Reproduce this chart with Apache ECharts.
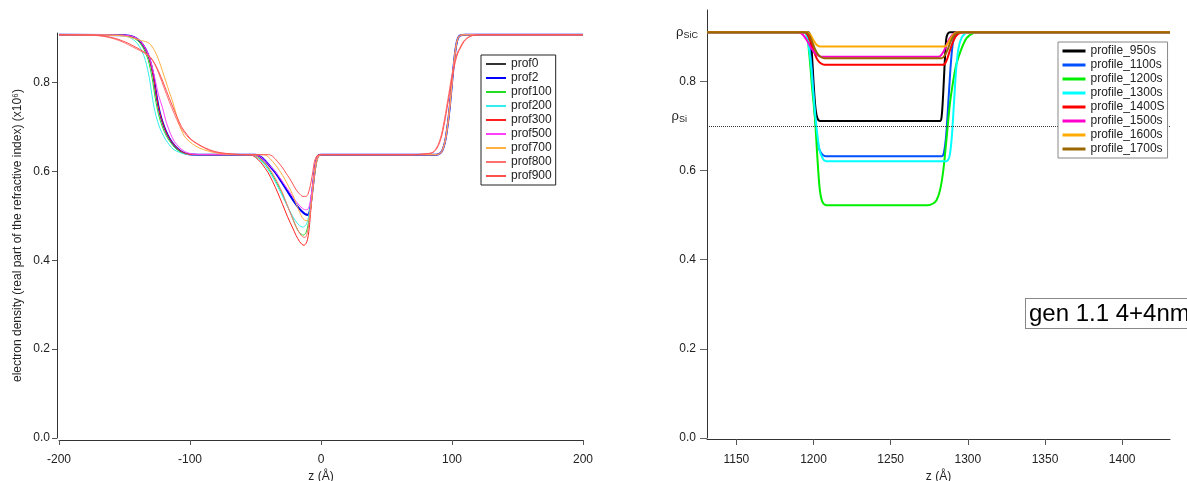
<!DOCTYPE html>
<html>
<head>
<meta charset="utf-8">
<script src="https://cdn.jsdelivr.net/npm/echarts@6/dist/echarts.min.js"></script>
<style>
  html, body { margin: 0; padding: 0; background: #fff; }
  #chart { width: 1187px; height: 481px; }
</style>
</head>
<body>
<div id="chart"></div>
<script>
// ---- left panel: electron density profiles (z in Å, value x10^6) ----
const leftNames = ['prof0', 'prof2', 'prof100', 'prof200', 'prof300', 'prof500', 'prof700', 'prof800', 'prof900'];

const prof0 = [[-200,0.908],[-150,0.907],[-143,0.903],[-138,0.893],[-134,0.876],[-131,0.855],[-128,0.818],[-125.5,0.77],[-123,0.732],[-120,0.703],[-117,0.682],[-114,0.667],[-110,0.653],[-106,0.644],[-101,0.639],[-90,0.638],
  [-50,0.638],[-46,0.633],[-42.5,0.624],[-39,0.612],[-35,0.598],[-31.5,0.583],[-28,0.567],[-24,0.548],[-20.5,0.532],[-17.5,0.52],[-14.5,0.509],[-12,0.503],[-10,0.501],[-8.5,0.512],[-7.3,0.54],[-6,0.572],[-4.7,0.605],[-3.5,0.626],[-2.2,0.636],[0,0.638],
  [88,0.638],[91,0.641],[93,0.65],[95,0.672],[97,0.712],[98.5,0.752],[100,0.8],[101.5,0.845],[103,0.881],[104.5,0.9],[106.5,0.907],[110,0.908],[200,0.908]];
const prof2 = [[-200,0.908],[-150,0.907],[-143,0.903],[-138,0.893],[-134,0.876],[-131,0.855],[-128,0.818],[-125.5,0.77],[-123,0.732],[-120,0.703],[-117,0.682],[-114,0.667],[-110,0.653],[-106,0.644],[-101,0.639],[-90,0.638],
  [-50,0.638],[-46,0.633],[-42.5,0.624],[-39,0.612],[-35,0.598],[-31.5,0.583],[-28,0.567],[-24,0.548],[-20.5,0.532],[-17.5,0.52],[-14.5,0.51],[-12,0.504],[-10,0.503],[-8.5,0.513],[-7.3,0.54],[-6,0.572],[-4.7,0.605],[-3.5,0.626],[-2.2,0.636],[0,0.638],
  [88,0.638],[91,0.641],[93,0.65],[95,0.672],[97,0.712],[98.5,0.752],[100,0.8],[101.5,0.845],[103,0.881],[104.5,0.9],[106.5,0.907],[110,0.908],[200,0.908]];
const prof100 = [[-200,0.908],[-152,0.907],[-144,0.902],[-139,0.892],[-135,0.874],[-132,0.852],[-129,0.812],[-126.5,0.765],[-124,0.728],[-121,0.7],[-118,0.68],[-115,0.666],[-111,0.652],[-107,0.644],[-102,0.639],[-92,0.638],
  [-52,0.638],[-49.5,0.635],[-46,0.627],[-42,0.615],[-38,0.597],[-34.3,0.577],[-30,0.553],[-26.6,0.529],[-23,0.505],[-20.3,0.484],[-18,0.469],[-16,0.461],[-13.4,0.457],[-11.5,0.462],[-10,0.478],[-8.3,0.51],[-7,0.538],[-5.8,0.57],[-4.5,0.6],[-3.2,0.623],[-1.8,0.634],[0,0.638],
  [88,0.638],[91,0.641],[93,0.65],[95,0.672],[97,0.712],[98.5,0.752],[100,0.8],[101.5,0.845],[103,0.881],[104.5,0.9],[106.5,0.907],[110,0.908],[200,0.908]];
const prof200 = [[-200,0.908],[-154,0.907],[-146,0.902],[-141,0.891],[-137,0.873],[-134,0.85],[-131,0.81],[-128.5,0.762],[-126,0.726],[-123,0.698],[-120,0.679],[-117,0.665],[-113,0.651],[-108,0.643],[-103,0.639],[-93,0.638],
  [-53,0.638],[-50.9,0.635],[-47,0.627],[-43.2,0.615],[-39.5,0.6],[-35.6,0.581],[-31.8,0.559],[-28,0.536],[-24.5,0.515],[-21.6,0.499],[-19,0.487],[-16.5,0.479],[-13.9,0.475],[-11.4,0.48],[-10,0.492],[-8.8,0.51],[-7.5,0.535],[-6.3,0.563],[-5,0.594],[-3.7,0.619],[-2.2,0.633],[0,0.638],
  [88,0.638],[91,0.641],[93,0.65],[95,0.672],[97,0.712],[98.5,0.752],[100,0.8],[101.5,0.845],[103,0.881],[104.5,0.9],[106.5,0.907],[110,0.908],[200,0.908]];
const prof300 = [[-200,0.908],[-151,0.907],[-143,0.903],[-138,0.893],[-134,0.875],[-131,0.853],[-128,0.815],[-125.5,0.768],[-123,0.731],[-120,0.702],[-117,0.681],[-114,0.667],[-110,0.653],[-106,0.644],[-101,0.639],[-90,0.638],
  [-55,0.638],[-52,0.636],[-48,0.627],[-44.5,0.615],[-40.5,0.598],[-36.8,0.577],[-33,0.552],[-29.2,0.525],[-25.5,0.498],[-21.6,0.473],[-19,0.456],[-16.5,0.443],[-14.5,0.436],[-13,0.434],[-11.5,0.438],[-10.3,0.447],[-9.3,0.465],[-8.3,0.495],[-7.3,0.53],[-6.3,0.563],[-5.2,0.593],[-4.2,0.615],[-3.2,0.628],[-2,0.635],[0,0.638],
  [88,0.638],[91,0.641],[93,0.65],[95,0.672],[97,0.712],[98.5,0.752],[100,0.8],[101.5,0.845],[103,0.881],[104.5,0.9],[106.5,0.907],[110,0.908],[200,0.908]];
const prof500 = [[-200,0.908],[-150,0.907],[-142,0.902],[-137,0.891],[-133,0.872],[-130,0.848],[-127,0.812],[-124,0.772],[-121,0.744],[-118,0.71],[-115,0.686],[-112,0.668],[-108,0.654],[-104,0.645],[-99,0.64],[-88,0.638],
  [-50,0.638],[-46,0.633],[-42.5,0.624],[-39,0.613],[-35,0.6],[-31.5,0.586],[-28,0.571],[-24,0.554],[-20.5,0.539],[-17.5,0.527],[-14.5,0.518],[-12,0.514],[-10,0.515],[-8.5,0.528],[-7.3,0.55],[-6,0.578],[-4.7,0.607],[-3.5,0.627],[-2.2,0.636],[0,0.638],
  [88,0.638],[91,0.641],[93,0.65],[95,0.672],[97,0.712],[98.5,0.752],[100,0.8],[101.5,0.845],[103,0.881],[104.5,0.9],[106.5,0.907],[110,0.908],[200,0.908]];
const prof700 = [[-200,0.908],[-160,0.907],[-150,0.905],[-143,0.9],[-137,0.895],[-131.2,0.889],[-127,0.872],[-123.5,0.848],[-121,0.826],[-118.4,0.803],[-116,0.781],[-113.3,0.758],[-110.7,0.731],[-108.2,0.705],[-105.6,0.687],[-103.1,0.675],[-98,0.662],[-92.9,0.653],[-86,0.646],[-80.2,0.642],[-72,0.639],[-62,0.638],
  [-44,0.638],[-40.7,0.634],[-37,0.623],[-33,0.608],[-30.5,0.597],[-28,0.585],[-24.8,0.567],[-21.6,0.548],[-19,0.528],[-16.5,0.51],[-14.5,0.497],[-12.6,0.491],[-10.1,0.489],[-9,0.497],[-8.3,0.51],[-7.3,0.535],[-6.3,0.563],[-5,0.597],[-3.7,0.623],[-2.2,0.635],[0,0.638],
  [88,0.638],[91,0.641],[93,0.65],[95,0.672],[97,0.712],[98.5,0.752],[100,0.8],[101.5,0.845],[103,0.881],[104.5,0.9],[106.5,0.907],[110,0.908],[200,0.908]];
const prof800 = [[-200,0.908],[-175,0.907],[-165,0.904],[-157,0.898],[-150,0.89],[-144,0.881],[-138,0.872],[-131.2,0.859],[-127,0.842],[-123.5,0.818],[-119.7,0.788],[-115.9,0.758],[-112,0.73],[-108.2,0.705],[-104.4,0.688],[-100.6,0.675],[-96,0.665],[-91,0.656],[-82.7,0.645],[-75,0.641],[-67.4,0.639],[-58,0.638],
  [-52,0.638],[-49,0.635],[-45,0.626],[-41,0.613],[-37,0.596],[-33,0.574],[-29,0.549],[-25.5,0.522],[-22,0.497],[-19,0.476],[-16.5,0.462],[-14,0.453],[-12,0.452],[-10.5,0.462],[-9.3,0.482],[-8.3,0.505],[-7,0.538],[-5.8,0.57],[-4.5,0.6],[-3.2,0.623],[-1.8,0.634],[0,0.638],
  [70,0.638],[80,0.64],[85,0.643],[88.1,0.653],[90,0.665],[91.9,0.683],[94.4,0.72],[97,0.765],[99.5,0.81],[102.1,0.848],[104,0.867],[105.9,0.878],[108.5,0.892],[111,0.9],[116.1,0.907],[121.2,0.908],[200,0.908]];
const prof900 = [[-200,0.908],[-172,0.907],[-163,0.904],[-155,0.898],[-148,0.89],[-142,0.881],[-136,0.871],[-130,0.857],[-126,0.838],[-122,0.812],[-118,0.782],[-114,0.752],[-110,0.724],[-106.5,0.701],[-102.5,0.684],[-99,0.672],[-94,0.662],[-89,0.654],[-81,0.645],[-73,0.641],[-65,0.639],[-56,0.638],
  [-40,0.638],[-36.8,0.634],[-33,0.622],[-29.2,0.608],[-26.6,0.596],[-24.1,0.585],[-21.5,0.572],[-19,0.559],[-16.5,0.55],[-13.9,0.544],[-11.5,0.544],[-10.1,0.548],[-8.8,0.56],[-7.5,0.578],[-6.2,0.6],[-5,0.623],[-3.2,0.635],[-1,0.638],
  [70,0.638],[80.5,0.64],[85.5,0.643],[88.6,0.653],[90.5,0.665],[92.4,0.683],[94.9,0.72],[97.5,0.765],[100,0.81],[102.6,0.848],[104.5,0.867],[106.4,0.878],[109,0.892],[111.5,0.9],[116.6,0.907],[121.7,0.908],[200,0.908]];

const leftData = [prof0, prof2, prof100, prof200, prof300, prof500, prof700, prof800, prof900];
const leftColors = ['#333333', '#0000ff', '#22dd22', '#33eeee', '#ff2020', '#ff40ff', '#ffb040', '#ff7070', '#ff5050'];
const leftWidths = [1, 2, 1, 1, 1, 1, 1, 1, 1];

// ---- right panel: annealing series ----
const rightNames = ['profile_950s', 'profile_1100s', 'profile_1200s', 'profile_1300s', 'profile_1400S', 'profile_1500s', 'profile_1600s', 'profile_1700s'];

const profile950 = [[1131,0.91],[1196.5,0.91],[1198,0.9],[1199,0.86],[1200,0.8],[1201,0.75],[1202,0.724],[1203.5,0.712],[1206,0.711],
  [1282,0.711],[1283,0.72],[1284,0.77],[1285,0.84],[1286,0.895],[1287,0.907],[1288.5,0.91],[1431,0.91]];
const profile1100 = [[1131,0.91],[1194,0.91],[1196,0.9],[1198,0.86],[1199.5,0.8],[1201,0.72],[1202.5,0.67],[1204,0.645],[1206,0.635],[1208,0.632],
  [1283,0.632],[1284.5,0.64],[1286,0.68],[1287.5,0.76],[1289,0.84],[1290.5,0.89],[1292.5,0.905],[1295,0.91],[1431,0.91]];
const profile1200 = [[1131,0.91],[1195,0.91],[1197,0.87],[1199,0.79],[1201,0.715],[1202.5,0.63],[1204,0.56],[1205.5,0.532],[1207.5,0.523],[1210,0.522],
  [1274,0.522],[1277.5,0.526],[1279.8,0.534],[1282,0.556],[1284.1,0.6],[1286.3,0.675],[1288.4,0.75],[1290.6,0.802],[1292.7,0.84],[1296,0.874],[1299.2,0.897],[1303.5,0.908],[1306.8,0.91],[1431,0.91]];
const profile1300 = [[1131,0.91],[1194,0.91],[1196,0.895],[1198,0.85],[1199.5,0.79],[1201,0.73],[1202.5,0.68],[1204,0.645],[1206,0.627],[1208,0.621],
  [1286,0.621],[1288,0.63],[1289.5,0.67],[1291,0.75],[1292.5,0.83],[1294,0.875],[1296,0.898],[1298.5,0.908],[1300.5,0.91],[1431,0.91]];
const profile1400 = [[1131,0.91],[1194,0.91],[1196,0.905],[1198,0.89],[1200,0.87],[1202,0.852],[1204,0.842],[1207,0.837],
  [1284,0.837],[1286,0.845],[1288,0.865],[1290,0.885],[1292,0.9],[1294,0.907],[1297,0.91],[1431,0.91]];
const profile1500 = [[1131,0.91],[1190,0.91],[1193,0.905],[1196,0.89],[1199,0.872],[1202,0.86],[1205,0.855],
  [1281,0.855],[1283,0.86],[1285,0.872],[1287,0.888],[1289,0.9],[1291,0.907],[1293,0.91],[1431,0.91]];
const profile1600 = [[1131,0.91],[1196,0.91],[1198,0.905],[1200,0.892],[1202,0.882],[1204,0.878],
  [1285,0.878],[1287,0.885],[1289,0.897],[1291,0.906],[1293,0.91],[1431,0.91]];
const profile1700 = [[1131,0.91],[1195,0.91],[1197,0.905],[1199,0.89],[1201,0.872],[1203,0.86],[1205,0.854],[1207,0.852],
  [1283,0.852],[1285,0.858],[1287,0.872],[1289,0.89],[1291,0.903],[1293,0.909],[1295,0.91],[1431,0.91]];

const rightData = [profile950, profile1100, profile1200, profile1300, profile1400, profile1500, profile1600, profile1700];
const rightColors = ['#000000', '#0050ff', '#00ee00', '#00ffff', '#ff0000', '#ff00cc', '#ffaa00', '#996600'];

const rhoSiC = 0.91;
const rhoSi = 0.697;

const yTicks = [0, 0.2, 0.4, 0.6, 0.8];
const rightXTicks = [1150, 1200, 1250, 1300, 1350, 1400];

const FONT = '"Liberation Sans", Arial, sans-serif';

const chart = echarts.init(document.getElementById('chart'), null, { renderer: 'canvas' });

function baseAxis(extra) {
  return Object.assign({
    type: 'value',
    axisLine: { show: true, onZero: false, lineStyle: { color: '#333', width: 1 } },
    axisTick: { show: true, length: 5, lineStyle: { color: '#555' } },
    splitLine: { show: false },
    axisLabel: { color: '#222', fontSize: 12, fontFamily: FONT },
    nameTextStyle: { color: '#222', fontSize: 12, fontFamily: FONT }
  }, extra);
}

let series = [];
leftNames.forEach(function (n, i) {
  series.push({
    name: n, type: 'line', xAxisIndex: 0, yAxisIndex: 0,
    data: leftData[i], symbol: 'none', showSymbol: false, smooth: 0.3,
    lineStyle: { color: leftColors[i], width: leftWidths[i] },
    itemStyle: { color: leftColors[i] }
  });
});
rightNames.forEach(function (n, i) {
  series.push({
    name: n, type: 'line', xAxisIndex: 1, yAxisIndex: 1,
    data: rightData[i], symbol: 'none', showSymbol: false, smooth: 0.3,
    lineStyle: { color: rightColors[i], width: 2 },
    itemStyle: { color: rightColors[i] }
  });
});

// reference levels on the right panel
series[series.length - 1].markLine = {
  silent: true,
  symbol: ['none', 'none'],
  animation: false,
  data: [
    {
      yAxis: rhoSiC,
      lineStyle: { color: 'rgba(0,0,0,0)', width: 0 },
      label: { show: true, position: 'start', distance: 9, formatter: '{r|ρ}{s|SiC}' }
    },
    {
      yAxis: rhoSi,
      lineStyle: { type: 'dotted', color: '#333', width: 1 },
      label: { show: true, position: 'start', distance: 20, offset: [0, -9], formatter: '{r|ρ}{s|Si}' }
    }
  ],
  label: {
    color: '#222',
    fontFamily: FONT,
    rich: {
      r: { fontSize: 13, fontFamily: FONT, color: '#222' },
      s: { fontSize: 9, fontFamily: FONT, color: '#222', padding: [6, 0, 0, 0] }
    }
  }
};

const option = {
  animation: false,
  backgroundColor: '#fff',
  textStyle: { fontFamily: FONT },
  grid: [
    { left: 59, right: 604, top: 33, bottom: 43, containLabel: false, outerBoundsMode: 'none' },
    { left: 707, right: 17, top: 10, bottom: 43, containLabel: false, outerBoundsMode: 'none' }
  ],
  xAxis: [
    baseAxis({
      gridIndex: 0, min: -200, max: 200, interval: 100, offset: 2,
      name: 'z (Å)', nameLocation: 'middle', nameGap: 31,
      axisLabel: { color: '#222', fontSize: 12, fontFamily: FONT, margin: 14 }
    }),
    baseAxis({
      gridIndex: 1, min: 1131, max: 1431, offset: 1,
      name: 'z (Å)', nameLocation: 'middle', nameGap: 32,
      axisTick: { show: true, length: 6, lineStyle: { color: '#555' }, customValues: rightXTicks },
      axisLabel: { color: '#222', fontSize: 12, fontFamily: FONT, margin: 15, customValues: rightXTicks,
        formatter: function (v) { return String(v); } }
    })
  ],
  yAxis: [
    baseAxis({
      gridIndex: 0, min: 0, max: 0.912, offset: 2,
      name: 'electron density (real part of the refractive index) (x10⁶)',
      nameLocation: 'middle', nameGap: 33,
      axisTick: { show: true, length: 5, lineStyle: { color: '#555' }, customValues: yTicks },
      axisLabel: { color: '#222', fontSize: 12, fontFamily: FONT, margin: 7, customValues: yTicks,
        formatter: function (v) { return v.toFixed(1); } }
    }),
    baseAxis({
      gridIndex: 1, min: 0, max: 0.96,
      axisTick: { show: true, length: 7, lineStyle: { color: '#666' }, customValues: yTicks },
      axisLabel: { color: '#222', fontSize: 12, fontFamily: FONT, margin: 11, customValues: yTicks,
        formatter: function (v) { return v.toFixed(1); } }
    })
  ],
  legend: [
    {
      data: leftNames, left: 481, top: 55, orient: 'vertical', z: 20,
      itemWidth: 20, itemHeight: 12, itemGap: 2,
      padding: [3, 4, 3, 4],
      borderColor: '#222', borderWidth: 1, backgroundColor: '#fff',
      itemStyle: { opacity: 0 },
      textStyle: { fontSize: 12, color: '#222', fontFamily: FONT }
    },
    {
      data: rightNames, left: 1058, top: 42, orient: 'vertical', z: 20,
      itemWidth: 23, itemHeight: 12, itemGap: 2,
      padding: [3, 3, 3, 3],
      borderColor: '#888', borderWidth: 1, backgroundColor: '#fff',
      itemStyle: { opacity: 0 },
      lineStyle: { width: 3 },
      textStyle: { fontSize: 12, color: '#222', fontFamily: FONT }
    }
  ],
  graphic: [
    {
      type: 'text', left: 1025, top: 298, z: 100,
      style: {
        text: 'gen 1.1 4+4nm',
        font: '24px "Liberation Sans", Arial, sans-serif',
        fill: '#000',
        backgroundColor: '#fff',
        borderColor: '#888',
        borderWidth: 1,
        padding: [3, 4, 2, 3]
      }
    }
  ],
  series: series
};

chart.setOption(option);
</script>
</body>
</html>
